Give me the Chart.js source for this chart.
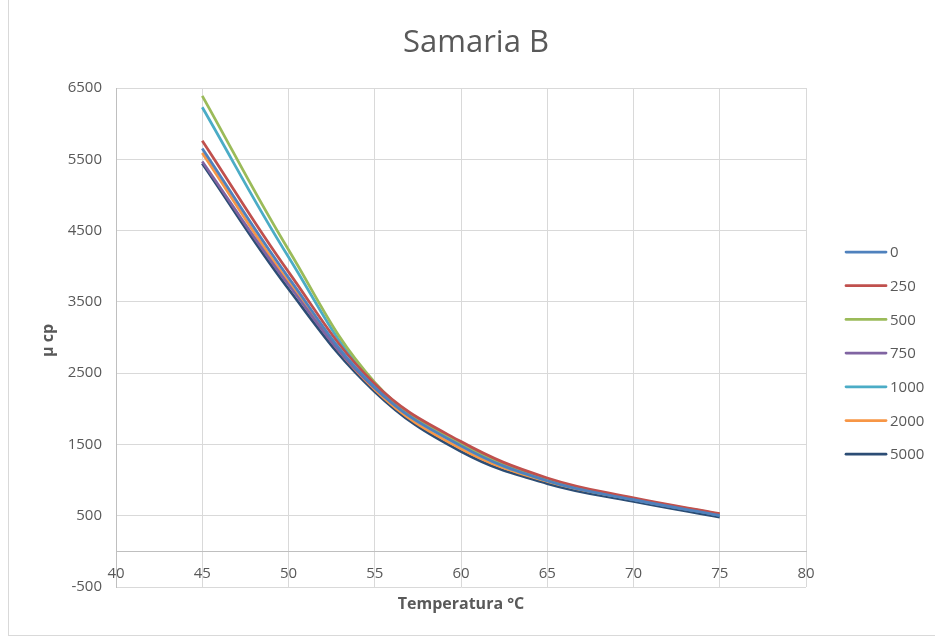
<!DOCTYPE html>
<html>
<head>
<meta charset="utf-8">
<script src="https://cdn.jsdelivr.net/npm/chart.js@4"></script>
<style>
  html, body { margin: 0; padding: 0; background: #ffffff; }
  #wrap { width: 935px; height: 639px; }
</style>
</head>
<body>
<div id="wrap"><canvas id="c" width="935" height="639"></canvas></div>
<script>
// Viscosity (cp) against temperature for each shear level
const temps = [45, 50, 55, 60, 65, 70, 75];
const seriesNames = ['0', '250', '500', '750', '1000', '2000', '5000'];
const s0    = [5650, 3840, 2300, 1480, 990, 725, 505];
const s250  = [5760, 3920, 2350, 1540, 1030, 750, 530];
const s500  = [6390, 4230, 2370, 1500, 1010, 740, 520];
const s750  = [5470, 3740, 2290, 1510, 1000, 730, 510];
const s1000 = [6230, 4130, 2330, 1480, 990, 725, 505];
const s2000 = [5590, 3780, 2270, 1440, 980, 730, 520];
const s5000 = [5440, 3680, 2240, 1400, 950, 700, 480];
const xTicks = { min: 40, max: 80, step: 5 };
const yTicks = { min: -500, max: 6500, step: 1000 };

const chartTitle = 'Samaria B';
const xTitle = 'Temperatura °C';
const yTitle = 'µ cp';

const colors = ['#4F81BD', '#C0504D', '#9BBB59', '#8064A2', '#4BACC6', '#F79646', '#2C4D75'];
const values = [s0, s250, s500, s750, s1000, s2000, s5000];

const FONT = '"Open Sans", "Noto Sans", sans-serif';
const TEXT = '#595959';
const GRID = '#D9D9D9';

const datasets = values.map((vals, i) => ({
  label: seriesNames[i],
  data: vals.map((v, k) => ({ x: temps[k], y: v })),
  borderColor: colors[i],
  backgroundColor: colors[i],
  borderWidth: 2.75,
  pointRadius: 0,
  pointHoverRadius: 0,
  tension: 0.4,
  fill: false
}));

// Frame, titles and the legend column on the right
const decorations = {
  id: 'decorations',
  beforeDraw(chart) {
    const ctx = chart.ctx;
    ctx.save();
    ctx.fillStyle = '#ffffff';
    ctx.fillRect(0, 0, chart.width, chart.height);
    ctx.strokeStyle = GRID;
    ctx.lineWidth = 1;
    ctx.strokeRect(8.5, -2, chart.width + 4, 637.5);
    ctx.restore();
  },
  afterDraw(chart) {
    const ctx = chart.ctx;
    const area = chart.chartArea;
    ctx.save();
    ctx.fillStyle = TEXT;
    ctx.textAlign = 'center';
    ctx.textBaseline = 'middle';

    ctx.font = '31px ' + FONT;
    ctx.fillText(chartTitle, 476, 43);

    ctx.font = 'bold 16px ' + FONT;
    ctx.fillText(xTitle, (area.left + area.right) / 2, 604);

    ctx.save();
    ctx.translate(48, (area.top + area.bottom) / 2 + 3);
    ctx.rotate(-Math.PI / 2);
    ctx.font = 'bold 16px ' + FONT;
    ctx.fillText(yTitle, 0, 0);
    ctx.restore();

    // legend
    const lx = 846, lw = 40, ly0 = 252, dy = 33.7;
    ctx.textAlign = 'left';
    ctx.font = '15px ' + FONT;
    chart.data.datasets.forEach((ds, i) => {
      const y = ly0 + i * dy;
      ctx.strokeStyle = ds.borderColor;
      ctx.lineWidth = 2.75;
      ctx.lineCap = 'round';
      ctx.beginPath();
      ctx.moveTo(lx, y);
      ctx.lineTo(lx + lw, y);
      ctx.stroke();
      ctx.fillStyle = TEXT;
      ctx.fillText(ds.label, lx + lw + 4, y + 1);
    });
    ctx.restore();
  }
};

new Chart(document.getElementById('c'), {
  type: 'line',
  data: { datasets },
  plugins: [decorations],
  options: {
    responsive: false,
    animation: false,
    events: [],
    layout: { padding: { left: 0, right: 129, top: 88, bottom: 52 } },
    plugins: {
      legend: { display: false },
      title: { display: false },
      tooltip: { enabled: false }
    },
    scales: {
      x: {
        type: 'linear',
        position: { y: 0 },
        min: xTicks.min,
        max: xTicks.max,
        ticks: {
          stepSize: xTicks.step,
          color: TEXT,
          font: { family: FONT, size: 15 },
          padding: 13,
          maxRotation: 0,
          callback: (v) => String(v)
        },
        grid: { color: GRID, drawTicks: false },
        border: { color: '#BFBFBF' }
      },
      y: {
        type: 'linear',
        position: 'left',
        min: yTicks.min,
        max: yTicks.max,
        ticks: {
          stepSize: yTicks.step,
          color: TEXT,
          font: { family: FONT, size: 15 },
          padding: 14,
          callback: (v) => String(v)
        },
        grid: { color: GRID, drawTicks: false },
        border: { color: '#BFBFBF' },
        afterFit(scale) { scale.width = 116; }
      }
    }
  }
});
</script>
</body>
</html>
